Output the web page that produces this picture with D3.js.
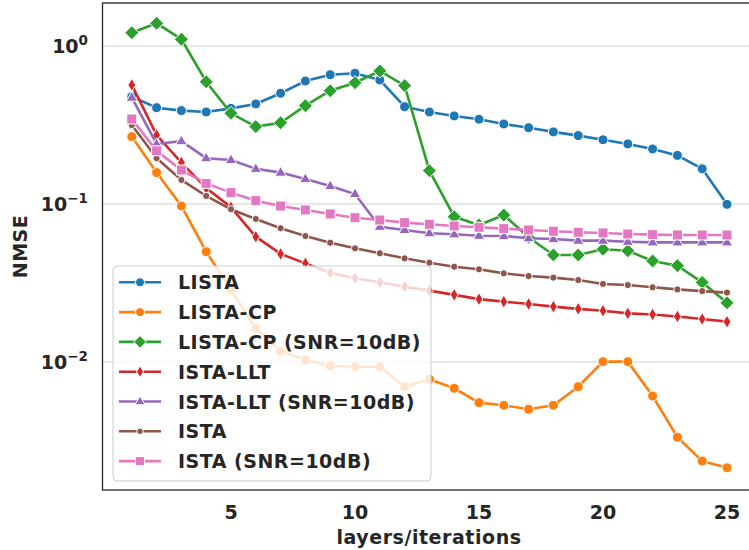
<!DOCTYPE html>
<html>
<head>
<meta charset="utf-8">
<script src="https://cdn.jsdelivr.net/npm/d3@7"></script>
<style>
  body { margin: 0; background: #fff; }
  svg text { font-family: "DejaVu Sans", sans-serif; font-weight: bold; fill: #262626; }
</style>
</head>
<body>
<div id="chart"></div>
<script>
// layers 1..25
var layers = d3.range(1, 26);

var seriesNames = ["LISTA", "LISTA-CP", "LISTA-CP (SNR=10dB)", "ISTA-LLT",
                   "ISTA-LLT (SNR=10dB)", "ISTA", "ISTA (SNR=10dB)"];

var lista = [0.478, 0.407, 0.390, 0.382, 0.403, 0.430, 0.502, 0.600, 0.658, 0.672,
             0.609, 0.413, 0.382, 0.361, 0.344, 0.321, 0.304, 0.286, 0.271, 0.255,
             0.240, 0.223, 0.203, 0.167, 0.0995];
var listaCP = [0.267, 0.158, 0.0971, 0.0499, 0.0286, 0.0163, 0.0117, 0.0103, 0.00944, 0.00934,
               0.00934, 0.00698, 0.00777, 0.00682, 0.00553, 0.00532, 0.00502, 0.00532, 0.00698, 0.01005,
               0.01005, 0.00609, 0.00334, 0.00236, 0.00214];
var listaCPnoisy = [1.214, 1.392, 1.103, 0.594, 0.375, 0.309, 0.327, 0.419, 0.521, 0.586,
                    0.695, 0.561, 0.1625, 0.0831, 0.0736, 0.0851, 0.0616, 0.0476, 0.0476, 0.0517,
                    0.0506, 0.0436, 0.0407, 0.0319, 0.0237];
var istaLLT = [0.567, 0.273, 0.183, 0.126, 0.0953, 0.0621, 0.0483, 0.0421, 0.0367, 0.0339,
               0.0319, 0.0300, 0.0283, 0.0266, 0.0250, 0.0241, 0.0233, 0.0224, 0.0217, 0.0211,
               0.0203, 0.0200, 0.0194, 0.0187, 0.0180];
var istaLLTnoisy = [0.471, 0.240, 0.250, 0.195, 0.190, 0.167, 0.158, 0.144, 0.130, 0.1157,
                    0.0718, 0.0685, 0.0653, 0.0643, 0.0630, 0.0627, 0.0607, 0.0600, 0.0586, 0.0586,
                    0.0577, 0.0572, 0.0572, 0.0572, 0.0572];
var ista = [0.316, 0.195, 0.142, 0.1124, 0.0926, 0.0804, 0.0702, 0.0627, 0.0569, 0.0524,
            0.0488, 0.0453, 0.0425, 0.0401, 0.0386, 0.0364, 0.0350, 0.0342, 0.0330, 0.0312,
            0.0307, 0.0297, 0.0288, 0.0281, 0.0275];
var istaNoisy = [0.345, 0.217, 0.164, 0.135, 0.118, 0.105, 0.0971, 0.0917, 0.0865, 0.0819,
                 0.0792, 0.0762, 0.0744, 0.0726, 0.0712, 0.0698, 0.0685, 0.0672, 0.0662, 0.0656,
                 0.0646, 0.0640, 0.0637, 0.0637, 0.0637];

var xTicks = [5, 10, 15, 20, 25];
var yTicks = [1, 0.1, 0.01];
var yTickExp = ["0", "\u22121", "\u22122"];

var colors = ["#1f77b4", "#ff7f0e", "#2ca02c", "#d62728", "#9467bd", "#8c564b", "#e377c2"];
var markers = ["circle", "circle", "bigDiamond", "thinDiamond", "triangle", "dot", "square"];

var allSeries = [lista, listaCP, listaCPnoisy, istaLLT, istaLLTnoisy, ista, istaNoisy];

var W = 749, H = 550;
var frame = {left: 102.5, top: 3, right: 760, bottom: 490};

var x = d3.scaleLinear().domain([1, 25]).range([131.8, 727]);
var y = d3.scaleLog().domain([1, 0.01]).range([46, 362]);

var svg = d3.select("#chart").append("svg")
    .attr("width", W)
    .attr("height", H);

// marker shapes
function markerPath(type, k) {
    k = k || 1;
    var s;
    switch (type) {
        case "circle":
            s = 5 * k;
            return "M" + s + ",0A" + s + "," + s + " 0 1,1 " + (-s) + ",0A" + s + "," + s + " 0 1,1 " + s + ",0Z";
        case "dot":
            s = 3.6 * k;
            return "M" + s + ",0A" + s + "," + s + " 0 1,1 " + (-s) + ",0A" + s + "," + s + " 0 1,1 " + s + ",0Z";
        case "bigDiamond":
            s = 7 * k;
            return "M0," + (-s) + "L" + s + ",0L0," + s + "L" + (-s) + ",0Z";
        case "thinDiamond":
            s = 6.5 * k;
            return "M0," + (-s) + "L" + (s * 0.6) + ",0L0," + s + "L" + (-s * 0.6) + ",0Z";
        case "triangle":
            s = 6 * k;
            return "M0," + (-s) + "L" + (s * 0.95) + "," + (s * 0.6) + "L" + (-s * 0.95) + "," + (s * 0.6) + "Z";
        case "square":
            s = 5 * k;
            return "M" + (-s) + "," + (-s) + "H" + s + "V" + s + "H" + (-s) + "Z";
    }
}

svg.append("defs").append("clipPath").attr("id", "plotClip")
    .append("rect")
    .attr("x", frame.left).attr("y", frame.top)
    .attr("width", frame.right - frame.left).attr("height", frame.bottom - frame.top);

// grid lines
svg.append("g").selectAll("line")
    .data(yTicks)
    .enter().append("line")
    .attr("x1", frame.left).attr("x2", frame.right)
    .attr("y1", function(d) { return y(d); })
    .attr("y2", function(d) { return y(d); })
    .attr("stroke", "#d0d0d0")
    .attr("stroke-width", 1.2);

// series
var plot = svg.append("g").attr("clip-path", "url(#plotClip)");
var line = d3.line()
    .x(function(d, i) { return x(layers[i]); })
    .y(function(d) { return y(d); });

allSeries.forEach(function(vals, si) {
    var g = plot.append("g");
    g.append("path")
        .datum(vals)
        .attr("d", line)
        .attr("fill", "none")
        .attr("stroke", colors[si])
        .attr("stroke-width", 2.6);
    g.selectAll(".m")
        .data(vals)
        .enter().append("path")
        .attr("class", "m")
        .attr("transform", function(d, i) { return "translate(" + x(layers[i]) + "," + y(d) + ")"; })
        .attr("d", markerPath(markers[si]))
        .attr("fill", colors[si])
        .attr("stroke", "#fff")
        .attr("stroke-width", 1);
});

// frame
svg.append("rect")
    .attr("x", frame.left).attr("y", frame.top)
    .attr("width", frame.right - frame.left).attr("height", frame.bottom - frame.top)
    .attr("fill", "none")
    .attr("stroke", "#262626")
    .attr("stroke-width", 1.3);

// x tick labels
svg.append("g").selectAll("text")
    .data(xTicks)
    .enter().append("text")
    .attr("x", function(d) { return x(d); })
    .attr("y", 519)
    .attr("text-anchor", "middle")
    .style("font-size", "19px")
    .text(function(d) { return d; });

// y tick labels (10 with superscript exponent)
var yt = svg.append("g").selectAll("text")
    .data(yTicks)
    .enter().append("text")
    .attr("x", 88)
    .attr("y", function(d) { return y(d) + 7; })
    .attr("text-anchor", "end")
    .style("font-size", "19px");
yt.append("tspan").text("10");
yt.append("tspan")
    .attr("dy", -8)
    .style("font-size", "13.5px")
    .text(function(d, i) { return yTickExp[i]; });

// axis titles
svg.append("text")
    .attr("x", 429)
    .attr("y", 544)
    .attr("text-anchor", "middle")
    .style("font-size", "19px")
    .style("letter-spacing", "0.55px")
    .text("layers/iterations");

svg.append("text")
    .attr("text-anchor", "middle")
    .attr("transform", "translate(27," + ((frame.top + frame.bottom) / 2) + ")rotate(-90)")
    .style("font-size", "19px")
    .style("letter-spacing", "0.5px")
    .text("NMSE");

// legend
var legend = svg.append("g");
legend.append("rect")
    .attr("x", 113).attr("y", 266)
    .attr("width", 318).attr("height", 215)
    .attr("rx", 4)
    .attr("fill", "#fff")
    .attr("fill-opacity", 0.8)
    .attr("stroke", "#cccccc")
    .attr("stroke-width", 1);

seriesNames.forEach(function(name, si) {
    var ly = 282.3 + si * 29.8;
    var row = legend.append("g").attr("transform", "translate(0," + ly + ")");
    row.append("line")
        .attr("x1", 119).attr("x2", 161)
        .attr("stroke", colors[si])
        .attr("stroke-width", 2.6);
    row.append("path")
        .attr("transform", "translate(140,0)")
        .attr("d", markerPath(markers[si], 0.9))
        .attr("fill", colors[si])
        .attr("stroke", "#fff")
        .attr("stroke-width", 1);
    row.append("text")
        .attr("x", 178)
        .attr("y", 7)
        .style("font-size", "19px")
        .style("letter-spacing", "0.5px")
        .text(name);
});
</script>
</body>
</html>
